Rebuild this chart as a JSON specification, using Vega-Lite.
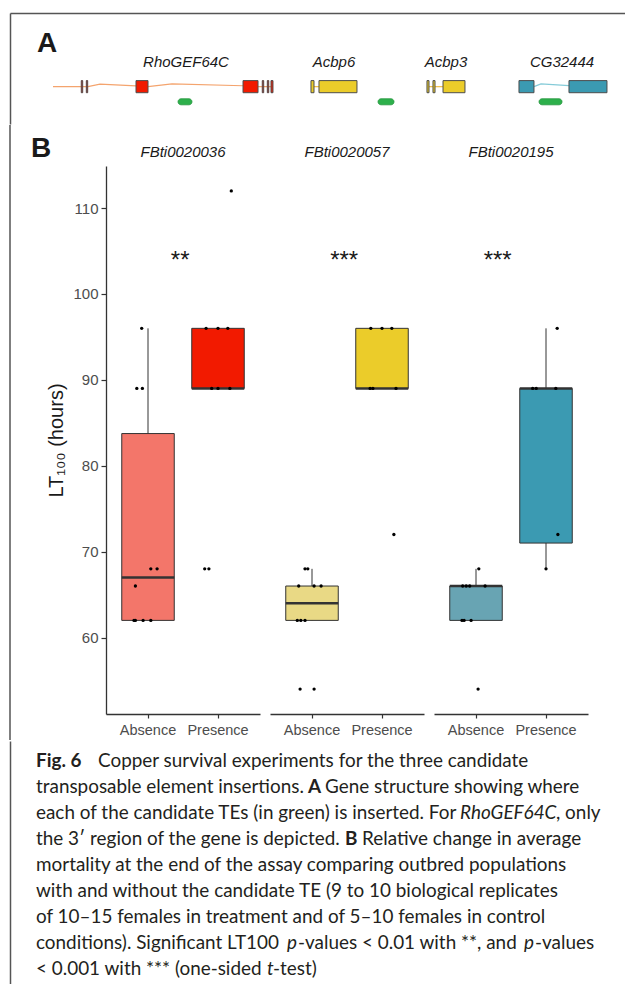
{
  "$schema": "https://vega.github.io/schema/vega-lite/v6.json",
  "autosize": {"type": "pad"},
  "padding": {"left": 9, "top": 13, "right": 0, "bottom": 0},
  "spacing": 0,
  "resolve": {"scale": {"fill": "independent", "stroke": "independent", "color": "independent"}},
  "config": {
    "view": {"stroke": null},
    "font": "Liberation Sans",
    "axis": {"grid": false, "labelFont": "Liberation Sans", "titleFont": "Liberation Sans"},
    "title": {"font": "Liberation Sans"}
  },
  "vconcat": [
    {
      "width": 615,
      "height": 111,
      "layer": [
        {
          "data": {"values": [
            {"gene": "RhoGEF64C", "pos": 6.99, "track": 2},
            {"gene": "RhoGEF64C", "pos": 12.68, "track": 2},
            {"gene": "RhoGEF64C", "pos": 14.63, "track": 2.17},
            {"gene": "RhoGEF64C", "pos": 20.49, "track": 2.05},
            {"gene": "RhoGEF64C", "pos": 22.44, "track": 2},
            {"gene": "RhoGEF64C", "pos": 26.34, "track": 2.18},
            {"gene": "RhoGEF64C", "pos": 37.89, "track": 2.06},
            {"gene": "RhoGEF64C", "pos": 40.33, "track": 2},
            {"gene": "RhoGEF64C", "pos": 42.76, "track": 2},
            {"gene": "Acbp6", "pos": 49.43, "track": 2},
            {"gene": "Acbp6", "pos": 50.24, "track": 2},
            {"gene": "Acbp3", "pos": 68.13, "track": 2},
            {"gene": "Acbp3", "pos": 70.41, "track": 2},
            {"gene": "CG32444", "pos": 85.2, "track": 2},
            {"gene": "CG32444", "pos": 86.34, "track": 2.18},
            {"gene": "CG32444", "pos": 90.89, "track": 2.07}
          ]},
          "mark": {"type": "line", "strokeWidth": 1.2},
          "encoding": {
            "x": {"field": "pos", "type": "quantitative", "scale": {"domain": [0, 100], "nice": false, "zero": false},
                  "axis": {"orient": "top", "domain": true, "domainColor": "#555555", "domainWidth": 1.5, "ticks": false, "labels": false, "title": null, "grid": false}},
            "y": {"field": "track", "type": "quantitative", "scale": {"domain": [-0.4667, 6.8667], "nice": false, "zero": false},
                  "axis": {"orient": "left", "domain": true, "domainColor": "#555555", "domainWidth": 1.5, "ticks": false, "labels": false, "title": null, "grid": false}},
            "stroke": {"field": "gene", "type": "nominal", "scale": {"domain": ["RhoGEF64C", "Acbp6", "Acbp3", "CG32444"], "range": ["#F4A46E", "#F2BE45", "#F2BE45", "#85CBD8"]}, "legend": null}
          }
        },
        {
          "data": {"values": [
            {"gene": "RhoGEF64C", "start": 11.59, "end": 11.82},
            {"gene": "RhoGEF64C", "start": 12.41, "end": 12.63},
            {"gene": "RhoGEF64C", "start": 20.49, "end": 22.44},
            {"gene": "RhoGEF64C", "start": 37.89, "end": 40.33},
            {"gene": "RhoGEF64C", "start": 41.02, "end": 41.25},
            {"gene": "RhoGEF64C", "start": 41.84, "end": 42.07},
            {"gene": "RhoGEF64C", "start": 42.44, "end": 42.76},
            {"gene": "Acbp6", "start": 48.94, "end": 49.43},
            {"gene": "Acbp6", "start": 50.24, "end": 56.42},
            {"gene": "Acbp3", "start": 67.8, "end": 68.13},
            {"gene": "Acbp3", "start": 68.78, "end": 69.11},
            {"gene": "Acbp3", "start": 70.41, "end": 73.98},
            {"gene": "CG32444", "start": 82.76, "end": 85.2},
            {"gene": "CG32444", "start": 90.89, "end": 97.07}
          ]},
          "mark": {"type": "rect", "stroke": "#4d4d4d", "strokeWidth": 1},
          "encoding": {
            "x": {"field": "start", "type": "quantitative"},
            "x2": {"field": "end"},
            "y": {"datum": 1.6},
            "y2": {"datum": 2.4},
            "fill": {"field": "gene", "type": "nominal", "scale": {"domain": ["RhoGEF64C", "Acbp6", "Acbp3", "CG32444"], "range": ["#F21A00", "#EBCC2A", "#EBCC2A", "#3B9AB2"]}, "legend": null}
          }
        },
        {
          "data": {"values": [
            {"te": "FBti0020036", "start": 27.32, "end": 29.59},
            {"te": "FBti0020057", "start": 59.84, "end": 62.44},
            {"te": "FBti0020195", "start": 86.02, "end": 89.76}
          ]},
          "mark": {"type": "rect", "fill": "#2DB04B", "stroke": "#24953D", "strokeWidth": 0.8, "cornerRadius": 3},
          "encoding": {
            "x": {"field": "start", "type": "quantitative"},
            "x2": {"field": "end"},
            "y": {"datum": 0.8},
            "y2": {"datum": 1.2}
          }
        },
        {
          "data": {"values": [
            {"gene": "RhoGEF64C", "center": 28.62},
            {"gene": "Acbp6", "center": 52.68},
            {"gene": "Acbp3", "center": 70.89},
            {"gene": "CG32444", "center": 89.76}
          ]},
          "mark": {"type": "text", "font": "Liberation Sans", "fontStyle": "italic", "fontSize": 15, "color": "#1a1a1a", "align": "center", "baseline": "alphabetic"},
          "encoding": {
            "x": {"field": "center", "type": "quantitative"},
            "y": {"datum": 3.33},
            "text": {"field": "gene"}
          }
        },
        {
          "data": {"values": [{"panel": "A"}]},
          "mark": {"type": "text", "font": "Liberation Sans", "fontWeight": "bold", "fontSize": 28, "color": "#1a1a1a", "align": "left", "baseline": "alphabetic"},
          "encoding": {
            "x": {"datum": 4.39},
            "y": {"datum": 4.27},
            "text": {"field": "panel"}
          }
        }
      ]
    },
    {
      "spacing": 0,
      "hconcat": [
        {
          "width": 20,
          "height": 548,
          "data": {"values": [{"from": 0, "to": 1}]},
          "mark": {"type": "rule", "color": "#555555", "strokeWidth": 1.5},
          "encoding": {
            "x": {"datum": 0, "type": "quantitative", "scale": {"domain": [0, 1]}, "axis": null},
            "y": {"field": "from", "type": "quantitative", "scale": {"domain": [0, 1], "range": [574, -41]}, "axis": null},
            "y2": {"field": "to"}
          }
        },
        {
          "data": {"values": [
            {"kind": "box", "insertion": "FBti0020036", "status": "Absence", "group": "FBti0020036 Absence", "lower": 62, "q1": 62, "median": 67, "q3": 83.75, "upper": 96},
            {"kind": "box", "insertion": "FBti0020036", "status": "Presence", "group": "FBti0020036 Presence", "lower": 89, "q1": 89, "median": 89, "q3": 96, "upper": 96},
            {"kind": "box", "insertion": "FBti0020057", "status": "Absence", "group": "FBti0020057 Absence", "lower": 62, "q1": 62, "median": 64, "q3": 66, "upper": 68},
            {"kind": "box", "insertion": "FBti0020057", "status": "Presence", "group": "FBti0020057 Presence", "lower": 89, "q1": 89, "median": 89, "q3": 96, "upper": 96},
            {"kind": "box", "insertion": "FBti0020195", "status": "Absence", "group": "FBti0020195 Absence", "lower": 62, "q1": 62, "median": 66, "q3": 66, "upper": 68},
            {"kind": "box", "insertion": "FBti0020195", "status": "Presence", "group": "FBti0020195 Presence", "lower": 68, "q1": 71, "median": 89, "q3": 89, "upper": 96},

            {"kind": "pt", "insertion": "FBti0020036", "status": "Absence", "lt100": 96, "jitter": -0.09},
            {"kind": "pt", "insertion": "FBti0020036", "status": "Absence", "lt100": 89, "jitter": -0.16},
            {"kind": "pt", "insertion": "FBti0020036", "status": "Absence", "lt100": 89, "jitter": -0.08},
            {"kind": "pt", "insertion": "FBti0020036", "status": "Absence", "lt100": 68, "jitter": 0.04},
            {"kind": "pt", "insertion": "FBti0020036", "status": "Absence", "lt100": 68, "jitter": 0.13},
            {"kind": "pt", "insertion": "FBti0020036", "status": "Absence", "lt100": 66, "jitter": -0.18},
            {"kind": "pt", "insertion": "FBti0020036", "status": "Absence", "lt100": 62, "jitter": -0.2},
            {"kind": "pt", "insertion": "FBti0020036", "status": "Absence", "lt100": 62, "jitter": -0.18},
            {"kind": "pt", "insertion": "FBti0020036", "status": "Absence", "lt100": 62, "jitter": -0.07},
            {"kind": "pt", "insertion": "FBti0020036", "status": "Absence", "lt100": 62, "jitter": 0.04},

            {"kind": "pt", "insertion": "FBti0020036", "status": "Presence", "lt100": 112, "jitter": 0.19},
            {"kind": "pt", "insertion": "FBti0020036", "status": "Presence", "lt100": 96, "jitter": -0.17},
            {"kind": "pt", "insertion": "FBti0020036", "status": "Presence", "lt100": 96, "jitter": 0.0},
            {"kind": "pt", "insertion": "FBti0020036", "status": "Presence", "lt100": 96, "jitter": 0.14},
            {"kind": "pt", "insertion": "FBti0020036", "status": "Presence", "lt100": 89, "jitter": -0.09},
            {"kind": "pt", "insertion": "FBti0020036", "status": "Presence", "lt100": 89, "jitter": 0.0},
            {"kind": "pt", "insertion": "FBti0020036", "status": "Presence", "lt100": 89, "jitter": 0.17},
            {"kind": "pt", "insertion": "FBti0020036", "status": "Presence", "lt100": 68, "jitter": -0.19},
            {"kind": "pt", "insertion": "FBti0020036", "status": "Presence", "lt100": 68, "jitter": -0.13},

            {"kind": "pt", "insertion": "FBti0020057", "status": "Absence", "lt100": 68, "jitter": -0.1},
            {"kind": "pt", "insertion": "FBti0020057", "status": "Absence", "lt100": 68, "jitter": -0.06},
            {"kind": "pt", "insertion": "FBti0020057", "status": "Absence", "lt100": 66, "jitter": -0.19},
            {"kind": "pt", "insertion": "FBti0020057", "status": "Absence", "lt100": 66, "jitter": 0.03},
            {"kind": "pt", "insertion": "FBti0020057", "status": "Absence", "lt100": 66, "jitter": 0.13},
            {"kind": "pt", "insertion": "FBti0020057", "status": "Absence", "lt100": 62, "jitter": -0.21},
            {"kind": "pt", "insertion": "FBti0020057", "status": "Absence", "lt100": 62, "jitter": -0.16},
            {"kind": "pt", "insertion": "FBti0020057", "status": "Absence", "lt100": 62, "jitter": -0.1},
            {"kind": "pt", "insertion": "FBti0020057", "status": "Absence", "lt100": 54, "jitter": -0.17},
            {"kind": "pt", "insertion": "FBti0020057", "status": "Absence", "lt100": 54, "jitter": 0.03},

            {"kind": "pt", "insertion": "FBti0020057", "status": "Presence", "lt100": 96, "jitter": -0.16},
            {"kind": "pt", "insertion": "FBti0020057", "status": "Presence", "lt100": 96, "jitter": 0.0},
            {"kind": "pt", "insertion": "FBti0020057", "status": "Presence", "lt100": 96, "jitter": 0.14},
            {"kind": "pt", "insertion": "FBti0020057", "status": "Presence", "lt100": 89, "jitter": -0.17},
            {"kind": "pt", "insertion": "FBti0020057", "status": "Presence", "lt100": 89, "jitter": -0.13},
            {"kind": "pt", "insertion": "FBti0020057", "status": "Presence", "lt100": 89, "jitter": 0.2},
            {"kind": "pt", "insertion": "FBti0020057", "status": "Presence", "lt100": 72, "jitter": 0.17},

            {"kind": "pt", "insertion": "FBti0020195", "status": "Absence", "lt100": 68, "jitter": 0.04},
            {"kind": "pt", "insertion": "FBti0020195", "status": "Absence", "lt100": 66, "jitter": -0.19},
            {"kind": "pt", "insertion": "FBti0020195", "status": "Absence", "lt100": 66, "jitter": -0.14},
            {"kind": "pt", "insertion": "FBti0020195", "status": "Absence", "lt100": 66, "jitter": -0.09},
            {"kind": "pt", "insertion": "FBti0020195", "status": "Absence", "lt100": 66, "jitter": 0.13},
            {"kind": "pt", "insertion": "FBti0020195", "status": "Absence", "lt100": 62, "jitter": -0.2},
            {"kind": "pt", "insertion": "FBti0020195", "status": "Absence", "lt100": 62, "jitter": -0.17},
            {"kind": "pt", "insertion": "FBti0020195", "status": "Absence", "lt100": 62, "jitter": -0.07},
            {"kind": "pt", "insertion": "FBti0020195", "status": "Absence", "lt100": 54, "jitter": 0.03},

            {"kind": "pt", "insertion": "FBti0020195", "status": "Presence", "lt100": 96, "jitter": 0.16},
            {"kind": "pt", "insertion": "FBti0020195", "status": "Presence", "lt100": 89, "jitter": -0.19},
            {"kind": "pt", "insertion": "FBti0020195", "status": "Presence", "lt100": 89, "jitter": -0.14},
            {"kind": "pt", "insertion": "FBti0020195", "status": "Presence", "lt100": 89, "jitter": 0.14},
            {"kind": "pt", "insertion": "FBti0020195", "status": "Presence", "lt100": 72, "jitter": 0.17},
            {"kind": "pt", "insertion": "FBti0020195", "status": "Presence", "lt100": 68, "jitter": 0.0},

            {"kind": "star", "insertion": "FBti0020036", "status": "Absence", "lt100": 103, "jitter": 0.46, "label": "**"},
            {"kind": "star", "insertion": "FBti0020057", "status": "Absence", "lt100": 103, "jitter": 0.46, "label": "***"},
            {"kind": "star", "insertion": "FBti0020195", "status": "Absence", "lt100": 103, "jitter": 0.31, "label": "***"}
          ]},
          "title": {"text": "B", "anchor": "start", "frame": "bounds", "fontSize": 28, "fontWeight": "bold", "color": "#1a1a1a", "dx": -16, "dy": 18, "offset": 0},
          "facet": {
            "column": {"field": "insertion", "type": "nominal",
                       "header": {"title": null, "labelFont": "Liberation Sans", "labelFontStyle": "italic", "labelFontSize": 15, "labelColor": "#1a1a1a", "labelPadding": 6}}
          },
          "spacing": 10,
          "spec": {
            "width": 154,
            "height": 548,
            "layer": [
              {
                "transform": [{"filter": "datum.kind === 'box'"}],
                "mark": {"type": "rule", "color": "#333333", "strokeWidth": 1},
                "encoding": {
                  "x": {"field": "status", "type": "nominal", "title": null, "scale": {"paddingInner": 0, "paddingOuter": 0.1},
                        "axis": {"labelAngle": 0, "domainColor": "#333333", "domainWidth": 1.3, "tickColor": "#333333", "tickSize": 4, "tickWidth": 1.2, "labelColor": "#4d4d4d", "labelFontSize": 14.5, "labelPadding": 5}},
                  "y": {"field": "lower", "type": "quantitative", "title": "LT₁₀₀ (hours)", "scale": {"domain": [51.1, 114.9], "nice": false, "zero": false},
                        "axis": {"values": [60, 70, 80, 90, 100, 110], "domainColor": "#333333", "domainWidth": 1.3, "tickColor": "#333333", "tickSize": 5, "tickWidth": 1.2, "labelColor": "#4d4d4d", "labelFontSize": 15, "labelPadding": 3, "titleFontSize": 20, "titleColor": "#1a1a1a", "titleFontWeight": "normal", "titlePadding": 6}},
                  "y2": {"field": "upper"}
                }
              },
              {
                "transform": [{"filter": "datum.kind === 'box'"}],
                "mark": {"type": "bar", "width": 52.5, "stroke": "#333333", "strokeWidth": 1},
                "encoding": {
                  "x": {"field": "status", "type": "nominal", "title": null},
                  "y": {"field": "q1", "type": "quantitative", "title": "LT₁₀₀ (hours)"},
                  "y2": {"field": "q3"},
                  "fill": {"field": "group", "type": "nominal", "legend": null,
                           "scale": {"domain": ["FBti0020036 Absence", "FBti0020036 Presence", "FBti0020057 Absence", "FBti0020057 Presence", "FBti0020195 Absence", "FBti0020195 Presence"],
                                     "range": ["#F3766A", "#F21A00", "#E9D985", "#EBCC2A", "#68A4B3", "#3B9AB2"]}}
                }
              },
              {
                "transform": [{"filter": "datum.kind === 'box'"}],
                "mark": {"type": "tick", "orient": "horizontal", "thickness": 2.5, "size": 52.5, "color": "#333333", "opacity": 1},
                "encoding": {
                  "x": {"field": "status", "type": "nominal", "title": null},
                  "y": {"field": "median", "type": "quantitative", "title": "LT₁₀₀ (hours)"}
                }
              },
              {
                "transform": [{"filter": "datum.kind === 'pt'"}],
                "mark": {"type": "circle", "size": 11, "color": "#000000", "opacity": 1},
                "encoding": {
                  "x": {"field": "status", "type": "nominal", "title": null},
                  "xOffset": {"field": "jitter", "type": "quantitative", "scale": {"domain": [-0.5, 0.5], "nice": false, "zero": false}},
                  "y": {"field": "lt100", "type": "quantitative", "title": "LT₁₀₀ (hours)"}
                }
              },
              {
                "transform": [{"filter": "datum.kind === 'star'"}],
                "mark": {"type": "text", "fontSize": 24, "color": "#1a1a1a", "align": "center", "baseline": "alphabetic"},
                "encoding": {
                  "x": {"field": "status", "type": "nominal", "title": null},
                  "xOffset": {"field": "jitter", "type": "quantitative"},
                  "y": {"field": "lt100", "type": "quantitative", "title": "LT₁₀₀ (hours)"},
                  "text": {"field": "label"}
                }
              }
            ]
          }
        }
      ]
    },
    {
      "width": 615,
      "height": 243,
      "layer": [
        {
          "data": {"values": [
            {"line": 1, "start": 88, "text": "Copper survival experiments for the three candidate"},
            {"line": 2, "start": 26, "text": "transposable element insertions."},
            {"line": 2, "start": 315, "text": "Gene structure showing where"},
            {"line": 3, "start": 26, "text": "each of the candidate TEs (in green) is inserted. For"},
            {"line": 3, "start": 546, "text": ", only"},
            {"line": 4, "start": 26, "text": "the 3′ region of the gene is depicted."},
            {"line": 4, "start": 352, "text": "Relative change in average"},
            {"line": 5, "start": 26, "text": "mortality at the end of the assay comparing outbred populations"},
            {"line": 6, "start": 26, "text": "with and without the candidate TE (9 to 10 biological replicates"},
            {"line": 7, "start": 26, "text": "of 10–15 females in treatment and of 5–10 females in control"},
            {"line": 8, "start": 26, "text": "conditions). Significant LT100"},
            {"line": 8, "start": 288, "text": "-values < 0.01 with **, and"},
            {"line": 8, "start": 525, "text": "-values"},
            {"line": 9, "start": 26, "text": "< 0.001 with *** (one-sided"},
            {"line": 9, "start": 263, "text": "-test)"}
          ]},
          "mark": {"type": "text", "align": "left", "baseline": "alphabetic", "font": "Lato", "fontSize": 18.9, "color": "#231f20"},
          "encoding": {
            "x": {"field": "start", "type": "quantitative", "scale": {"domain": [0, 615], "nice": false, "zero": false}, "axis": null},
            "y": {"field": "line", "type": "quantitative", "scale": {"domain": [0, 9.346], "reverse": true, "nice": false, "zero": false},
                  "axis": {"orient": "left", "domain": true, "domainColor": "#555555", "domainWidth": 1.5, "ticks": false, "labels": false, "title": null, "grid": false}},
            "text": {"field": "text"}
          }
        },
        {
          "data": {"values": [
            {"line": 1, "start": 26, "text": "Fig. 6"},
            {"line": 2, "start": 298, "text": "A"},
            {"line": 4, "start": 335, "text": "B"}
          ]},
          "mark": {"type": "text", "align": "left", "baseline": "alphabetic", "font": "Lato", "fontWeight": "bold", "fontSize": 18.9, "color": "#231f20"},
          "encoding": {
            "x": {"field": "start", "type": "quantitative"},
            "y": {"field": "line", "type": "quantitative"},
            "text": {"field": "text"}
          }
        },
        {
          "data": {"values": [
            {"line": 3, "start": 450, "text": "RhoGEF64C"},
            {"line": 8, "start": 277, "text": "p"},
            {"line": 8, "start": 514, "text": "p"},
            {"line": 9, "start": 257, "text": "t"}
          ]},
          "mark": {"type": "text", "align": "left", "baseline": "alphabetic", "font": "Lato", "fontStyle": "italic", "fontSize": 18.9, "color": "#231f20"},
          "encoding": {
            "x": {"field": "start", "type": "quantitative"},
            "y": {"field": "line", "type": "quantitative"},
            "text": {"field": "text"}
          }
        }
      ]
    }
  ]
}
